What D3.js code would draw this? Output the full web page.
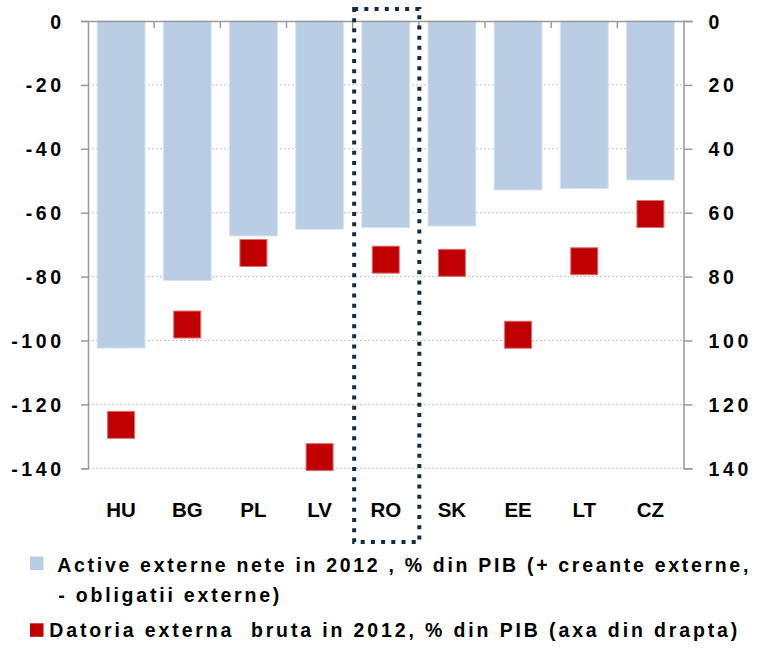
<!DOCTYPE html>
<html>
<head>
<meta charset="utf-8">
<script src="https://cdn.jsdelivr.net/npm/d3@7"></script>
<style>
  html, body { margin: 0; padding: 0; background: #fff; }
  svg { display: block; font-family: "Liberation Sans", Arial, sans-serif; }
</style>
</head>
<body>
<svg id="chart" width="760" height="650"></svg>
<script>
// ---- data ----
const categories = ["HU", "BG", "PL", "LV", "RO", "SK", "EE", "LT", "CZ"];
const netAssets = [-102.4, -81.2, -67.3, -65.2, -64.7, -64.2, -52.9, -52.4, -49.8];
const grossDebt = [126.4, 95.0, 72.6, 136.5, 74.7, 75.7, 98.2, 75.2, 60.4];
const leftTicks = [0, -20, -40, -60, -80, -100, -120, -140];
const rightTicks = [0, 20, 40, 60, 80, 100, 120, 140];
const highlighted = "RO";
const legendLabels = [
  "Active externe nete in 2012 , % din PIB (+ creante externe,",
  "- obligatii externe)",
  "Datoria externa  bruta in 2012, % din PIB (axa din drapta)"
];

// ---- layout ----
const pLeft = 88, pRight = 683.5, pTop = 21, pBottom = 468.3;
const svg = d3.select("#chart");

const x = d3.scaleBand().domain(categories).range([pLeft, pRight]).padding(0);
const yL = d3.scaleLinear().domain([-140, 0]).range([pBottom, pTop]);
const yR = d3.scaleLinear().domain([0, 140]).range([pTop, pBottom]);

const axisColor = "#9a9a9a";

// gridlines
svg.append("g").selectAll("line")
  .data(leftTicks.filter(d => d !== 0))
  .join("line")
  .attr("x1", pLeft).attr("x2", pRight)
  .attr("y1", d => yL(d)).attr("y2", d => yL(d))
  .attr("stroke", "#c8c8c8").attr("stroke-width", 1)
  .attr("stroke-dasharray", "2,2");

// bars
const barW = x.bandwidth() * 0.725;
svg.append("g").selectAll("rect")
  .data(categories)
  .join("rect")
  .attr("x", d => x(d) + (x.bandwidth() - barW) / 2)
  .attr("y", yL(0))
  .attr("width", barW)
  .attr("height", (d, i) => yL(netAssets[i]) - yL(0))
  .attr("fill", "#b9cde5")
  .attr("stroke", "#dce6f2").attr("stroke-width", 1);

// axes
const fmt = d => String(d);
const gL = svg.append("g").attr("transform", `translate(${pLeft},0)`)
  .call(d3.axisLeft(yL).tickValues(leftTicks).tickSize(7).tickFormat(fmt));
const gR = svg.append("g").attr("transform", `translate(${pRight},0)`)
  .call(d3.axisRight(yR).tickValues(rightTicks).tickSize(9).tickFormat(fmt));
const gX = svg.append("g").attr("transform", `translate(0,${pTop})`)
  .call(d3.axisBottom(x).tickSize(0).tickSizeOuter(0).tickFormat(""));
gX.selectAll(".tick").remove();
// category boundary ticks
svg.append("g").selectAll("line")
  .data(categories.slice(1))
  .join("line")
  .attr("x1", d => x(d)).attr("x2", d => x(d))
  .attr("y1", pTop).attr("y2", pTop + 7)
  .attr("stroke", axisColor).attr("stroke-width", 1.5);

[gL, gR, gX].forEach(g => {
  g.selectAll("path.domain").attr("stroke", axisColor).attr("stroke-width", 1.5);
  g.selectAll(".tick line").attr("stroke", axisColor).attr("stroke-width", 1.5);
  g.selectAll(".tick text")
    .attr("fill", "#000")
    .attr("font-size", 19.5)
    .attr("font-weight", "bold")
    .attr("font-family", "'Liberation Sans', Arial, sans-serif")
    .style("letter-spacing", "3.6px")
    .attr("dy", "0.36em");
});
gL.selectAll(".tick text").attr("x", -23.4).attr("text-anchor", "end");
gR.selectAll(".tick text").attr("x", 25).attr("text-anchor", "start");

// category labels
svg.append("g").selectAll("text")
  .data(categories)
  .join("text")
  .attr("x", d => x(d) + x.bandwidth() / 2)
  .attr("y", 516.5)
  .attr("text-anchor", "middle")
  .attr("font-size", 20.5)
  .attr("font-weight", "bold")
  .attr("fill", "#000")
  .text(d => d);

// squares (right axis)
const sq = 27;
svg.append("g").selectAll("rect")
  .data(categories)
  .join("rect")
  .attr("x", d => x(d) + x.bandwidth() / 2 - sq / 2)
  .attr("y", (d, i) => yR(grossDebt[i]) - sq / 2)
  .attr("width", sq).attr("height", sq)
  .attr("fill", "#c00000")
  .attr("stroke", "#e07070").attr("stroke-width", 1);

// highlight box around RO
svg.append("rect")
  .attr("x", x(highlighted) + 1.5)
  .attr("y", 9)
  .attr("width", x.bandwidth() - 1)
  .attr("height", 533)
  .attr("fill", "none")
  .attr("stroke", "#152a45")
  .attr("stroke-width", 4)
  .attr("stroke-dasharray", "4,6.2");

// legend
const lg = svg.append("g");
lg.append("rect").attr("x", 30).attr("y", 556.5).attr("width", 13.5).attr("height", 13.5).attr("fill", "#b9cde5");
lg.append("rect").attr("x", 30).attr("y", 623.3).attr("width", 13.5).attr("height", 13.5).attr("fill", "#c00000");

const legendPos = [
  { x: 57.3, y: 571.7, w: 691 },
  { x: 58.3, y: 601.5, w: 221 },
  { x: 49.3, y: 636.7, w: 688 }
];
lg.selectAll("text.leg")
  .data(legendLabels)
  .join("text")
  .attr("class", "leg")
  .attr("x", (d, i) => legendPos[i].x)
  .attr("y", (d, i) => legendPos[i].y)
  .attr("font-size", 19.5)
  .attr("font-weight", "bold")
  .attr("fill", "#000")
  .style("white-space", "pre")
  .attr("textLength", (d, i) => legendPos[i].w)
  .attr("lengthAdjust", "spacing")
  .text(d => d);
</script>
</body>
</html>
